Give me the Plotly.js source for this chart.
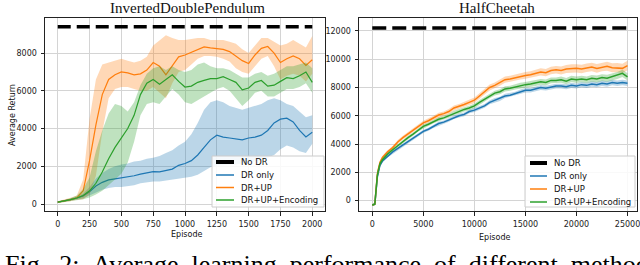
<!DOCTYPE html>
<html><head><meta charset="utf-8">
<script src="https://cdn.plot.ly/plotly-3.0.1.min.js"></script>
<style>html,body{margin:0;padding:0;background:#fff;} #chart{width:640px;height:265px;}</style>
</head><body><div id="chart"></div>
<script>
// ---------- shared ----------
const seriesNames = ['No DR', 'DR only', 'DR+UP', 'DR+UP+Encoding'];
const seriesColors = ['#000000', '#1f77b4', '#ff7f0e', '#2ca02c'];
const bandColors = ['rgba(0,0,0,0)', 'rgba(31,119,180,0.3)', 'rgba(255,127,14,0.3)', 'rgba(44,160,44,0.3)'];
const chartTitles = ['InvertedDoublePendulum', 'HalfCheetah'];
const xAxisTitle = 'Episode';
const yAxisTitle = 'Average Return';
const captionText = 'Fig. 2: Average learning performance of different methods';

// ---------- InvertedDoublePendulum ----------
const idpEpisodes = [0,50,100,150,200,250,300,350,400,450,500,550,600,650,700,750,800,850,900,950,1000,1050,1100,1150,1200,1250,1300,1350,1400,1450,1500,1550,1600,1650,1700,1750,1800,1850,1900,1950,2000];
const idpNoDrEpisodes = [0, 2000];
const idpNoDr = [9390, 9390];
const idpDrOnly   = [100,150,230,320,430,650,950,1150,1280,1330,1380,1420,1500,1580,1650,1720,1700,1760,1850,2050,2150,2300,2600,3000,3400,3650,3550,3500,3450,3400,3500,3550,3650,3900,4300,4500,4550,4350,3900,3550,3800];
const idpDrOnlyHi = [130,200,290,400,550,900,1350,1650,1850,2000,2100,2150,2250,2300,2400,2450,2550,2700,2850,3100,3300,3700,4300,5000,5400,5500,5400,5200,5100,5000,5100,5200,5300,5500,5600,5500,5300,5200,4900,4600,4700];
const idpDrOnlyLo = [70,100,170,240,300,420,600,750,850,900,900,950,1000,1100,1150,1200,1200,1250,1300,1350,1400,1450,1550,1750,1950,2050,2050,2100,2100,2150,2200,2250,2350,2450,2600,2900,3100,3000,2800,2700,3200];
const idpDrUp     = [100,150,230,330,700,2300,4200,5800,6600,6850,7000,6950,6850,6900,7100,7500,7300,6850,7350,7800,7900,8050,8200,8330,8280,8250,8200,8080,7850,7600,7450,7900,8250,8350,8000,7500,7700,7850,7700,7350,7650];
const idpDrUpHi   = [150,220,330,450,1300,4500,6600,7400,7500,7600,7700,7600,7500,7600,7800,8400,8700,8950,8800,8700,8700,8750,8800,8800,8700,8700,8700,8600,8500,8200,8000,8400,8800,8800,8600,8400,8500,8700,8500,8300,8900];
const idpDrUpLo   = [50,90,150,230,250,500,1500,3800,5600,6100,6200,6200,6100,6000,6000,6200,5900,5600,6400,7000,7100,7400,7700,7850,7850,7800,7700,7550,7200,7000,6900,7300,7700,7850,7300,6600,6800,6900,6800,6500,6900];
const idpDrUpEnc   = [100,150,230,320,450,700,1100,1700,2400,3000,3500,4000,4700,5800,6400,6600,6350,6600,6850,6500,6200,6250,6450,6550,6650,6650,6750,6600,6450,6050,6150,6450,6550,6250,6300,6500,6700,6650,6800,7000,6450];
const idpDrUpEncHi = [150,200,300,450,800,1400,2800,3900,4800,5300,5200,4900,5400,6300,6900,7200,7300,7100,7300,7100,7000,7100,7400,7500,7300,7200,7200,7100,6900,6700,6700,6900,7000,6800,6900,7100,7300,7300,7400,7500,7200];
const idpDrUpEncLo = [60,100,160,200,250,350,500,700,1000,1300,1600,2200,3300,4700,5300,5400,5300,5700,6100,5800,5400,5300,5500,5700,5900,6100,6200,6000,5600,5200,5500,5900,6000,5700,5700,5900,6100,6100,6200,6400,5900];
const idpXTicks = [0,250,500,750,1000,1250,1500,1750,2000];
const idpYTicks = [0,2000,4000,6000,8000];

// ---------- HalfCheetah ----------
const hcEpisodes = [0,250,500,750,1000,1500,2000,2500,3000,3500,4000,4500,5000,5500,6000,6500,7000,7500,8000,8500,9000,9500,10000,10500,11000,11500,12000,12500,13000,13500,14000,14500,15000,15500,16000,16500,17000,17500,18000,18500,19000,19500,20000,20500,21000,21500,22000,22500,23000,23500,24000,24500,25000];
const hcNoDrEpisodes = [0, 25000];
const hcNoDr = [12200, 12200];
const hcDrOnly = [-300,-250,1700,2500,2800,3150,3450,3700,3950,4150,4400,4650,4900,5050,5250,5450,5550,5700,5900,6000,6100,6300,6400,6550,6700,6950,7100,7200,7400,7450,7550,7700,7800,7800,7900,8000,7950,8050,8100,8100,8050,8150,8100,8200,8150,8250,8200,8300,8250,8350,8300,8350,8300];
const hcDrOnlySpread = [60,80,300,150,100,100,100,100,100,100,110,110,110,110,120,120,120,120,130,130,130,130,140,140,140,140,150,150,150,150,150,160,160,160,160,170,170,170,170,170,180,180,180,180,180,190,190,190,190,190,200,200,200];
const hcDrUp = [-300,-250,1900,2700,3050,3450,3750,4150,4450,4700,4950,5250,5500,5650,5850,6050,6150,6300,6550,6650,6800,6950,7100,7400,7700,8000,8150,8350,8550,8600,8700,8800,8850,8900,9000,9100,9050,9200,9250,9200,9300,9350,9350,9300,9400,9450,9350,9450,9500,9400,9400,9350,9550];
const hcDrUpSpread = [60,80,300,150,120,120,120,130,130,130,140,140,150,150,150,160,160,170,170,180,180,190,190,200,200,210,210,220,220,230,230,240,240,250,250,260,260,270,270,280,280,290,290,300,300,300,310,310,320,320,330,330,340];
const hcDrUpEnc = [-300,-250,1800,2600,2900,3300,3600,3900,4200,4450,4700,5000,5250,5400,5600,5750,5850,6000,6200,6300,6450,6550,6700,6950,7150,7400,7600,7700,7900,7950,8050,8150,8200,8250,8300,8400,8350,8500,8500,8550,8450,8600,8550,8600,8550,8650,8600,8700,8650,8750,8850,9000,8750];
const hcDrUpEncSpread = [60,80,300,150,110,110,110,110,120,120,120,120,130,130,130,140,140,140,150,150,150,160,160,160,170,170,170,180,180,180,190,190,190,200,200,200,210,210,210,220,220,220,230,230,230,240,240,240,250,250,250,260,260];
const hcXTicks = [0,5000,10000,15000,20000,25000];
const hcYTicks = [0,2000,4000,6000,8000,10000,12000];

// ---------- build traces ----------
const W = 640, H = 265;
const px = v => v / W;
const py = v => 1 - v / H;

function band(x, hi, lo, color, xa, ya) {
  return {type:'scatter', mode:'lines', x: x.concat(x.slice().reverse()), y: hi.concat(lo.slice().reverse()),
    fill:'toself', fillcolor: color, line:{width:0}, hoverinfo:'skip', showlegend:false, xaxis:xa, yaxis:ya};
}
function line(x, y, color, width, xa, ya, dash) {
  return {type:'scatter', mode:'lines', x:x, y:y, line:{color:color, width:width, dash: dash || 'solid'},
    showlegend:false, xaxis:xa, yaxis:ya};
}
const addSpread = (m, s, sign) => m.map((v, i) => v + sign * s[i]);

const traces = [];
// left
traces.push(line(idpNoDrEpisodes, idpNoDr, seriesColors[0], 3.5, 'x', 'y', '13px,6px'));
traces.push(line(idpEpisodes, idpDrOnly, seriesColors[1], 1.2, 'x', 'y'));
traces.push(band(idpEpisodes, idpDrOnlyHi, idpDrOnlyLo, bandColors[1], 'x', 'y'));
traces.push(line(idpEpisodes, idpDrUp, seriesColors[2], 1.2, 'x', 'y'));
traces.push(band(idpEpisodes, idpDrUpHi, idpDrUpLo, bandColors[2], 'x', 'y'));
traces.push(line(idpEpisodes, idpDrUpEnc, seriesColors[3], 1.2, 'x', 'y'));
traces.push(band(idpEpisodes, idpDrUpEncHi, idpDrUpEncLo, bandColors[3], 'x', 'y'));
// right
traces.push(line(hcNoDrEpisodes, hcNoDr, seriesColors[0], 3.5, 'x2', 'y2', '14px,6px'));
traces.push(line(hcEpisodes, hcDrOnly, seriesColors[1], 1.5, 'x2', 'y2'));
traces.push(band(hcEpisodes, addSpread(hcDrOnly, hcDrOnlySpread, 1), addSpread(hcDrOnly, hcDrOnlySpread, -1), bandColors[1], 'x2', 'y2'));
traces.push(line(hcEpisodes, hcDrUp, seriesColors[2], 1.5, 'x2', 'y2'));
traces.push(band(hcEpisodes, addSpread(hcDrUp, hcDrUpSpread, 1), addSpread(hcDrUp, hcDrUpSpread, -1), bandColors[2], 'x2', 'y2'));
traces.push(line(hcEpisodes, hcDrUpEnc, seriesColors[3], 1.5, 'x2', 'y2'));
traces.push(band(hcEpisodes, addSpread(hcDrUpEnc, hcDrUpEncSpread, 1), addSpread(hcDrUpEnc, hcDrUpEncSpread, -1), bandColors[3], 'x2', 'y2'));

// ---------- axes ----------
const axisCommon = {showgrid:true, gridcolor:'#d4d4d4', gridwidth:1, zeroline:false, showline:true, mirror:true,
  linecolor:'#222', linewidth:1, ticks:'outside', ticklen:3.5, tickwidth:1, tickcolor:'#222',
  ticklabelstandoff:2, ticklabeloverflow:'allow',
  tickfont:{family:'DejaVu Sans', size:8, color:'#222'}, fixedrange:true};
const yDomain = [py(211), py(18)];

const shapes = [];
const annotations = [];
function textAnn(x, y, text, size, family, opts) {
  return Object.assign({xref:'paper', yref:'paper', x:px(x), y:py(y), text:text, showarrow:false,
    font:{family:family, size:size, color:'#111'}, xanchor:'center', yanchor:'middle'}, opts || {});
}
// titles
annotations.push(textAnn(187, 8, chartTitles[0], 15, 'Liberation Serif'));
annotations.push(textAnn(497, 8, chartTitles[1], 15, 'Liberation Serif'));
// axis titles
annotations.push(textAnn(186, 234, xAxisTitle, 8, 'DejaVu Sans'));
annotations.push(textAnn(494, 237.5, xAxisTitle, 8, 'DejaVu Sans'));
annotations.push(textAnn(12, 115, yAxisTitle, 8, 'DejaVu Sans', {textangle:-90}));
// caption: only its upper part is inside the picture, as in the reference
annotations.push(textAnn(3, 247.5, captionText.split(' ').join('\u2002'), 26, 'Liberation Serif',
  {xanchor:'left', yanchor:'top', font:{family:'Liberation Serif', size:26, color:'#000'}}));

// legends
function legend(box, lineX0, lineX1, textX, rowYs) {
  shapes.push({type:'rect', xref:'paper', yref:'paper', x0:px(box[0]), x1:px(box[1]), y0:py(box[3]), y1:py(box[2]),
    line:{color:'#cccccc', width:1}, fillcolor:'rgba(255,255,255,0.85)', layer:'above'});
  seriesNames.forEach((name, i) => {
    shapes.push({type:'line', xref:'paper', yref:'paper', x0:px(lineX0), x1:px(lineX1), y0:py(rowYs[i]), y1:py(rowYs[i]),
      line:{color:seriesColors[i], width: i === 0 ? 4 : 1.5}, layer:'above'});
    annotations.push(textAnn(textX, rowYs[i], name, 8.5, 'DejaVu Sans', {xanchor:'left'}));
  });
}
legend([212, 324, 156, 207], 216, 234, 239, [162, 175, 187.5, 200]);
legend([525, 635, 156, 207], 530, 547, 552, [163, 176, 189, 202]);

const layout = {
  width: W, height: H, margin:{l:0, r:0, t:0, b:0}, paper_bgcolor:'#fff', plot_bgcolor:'#fff', showlegend:false,
  font:{family:'DejaVu Sans', size:8, color:'#222'},
  xaxis: Object.assign({}, axisCommon, {domain:[px(45), px(325)], anchor:'y', range:[-100, 2100], tickvals:idpXTicks, ticktext:idpXTicks.map(String)}),
  yaxis: Object.assign({}, axisCommon, {domain:yDomain, anchor:'x', range:[-370, 9860], tickvals:idpYTicks, ticktext:idpYTicks.map(String)}),
  xaxis2: Object.assign({}, axisCommon, {domain:[px(359), px(637)], anchor:'y2', range:[-1300, 25930], tickvals:hcXTicks, ticktext:hcXTicks.map(String)}),
  yaxis2: Object.assign({}, axisCommon, {domain:yDomain, anchor:'x2', range:[-730, 12910], tickvals:hcYTicks, ticktext:hcYTicks.map(String)}),
  shapes: shapes,
  annotations: annotations
};

Plotly.newPlot('chart', traces, layout, {staticPlot:true, displayModeBar:false});
</script>
</body></html>
